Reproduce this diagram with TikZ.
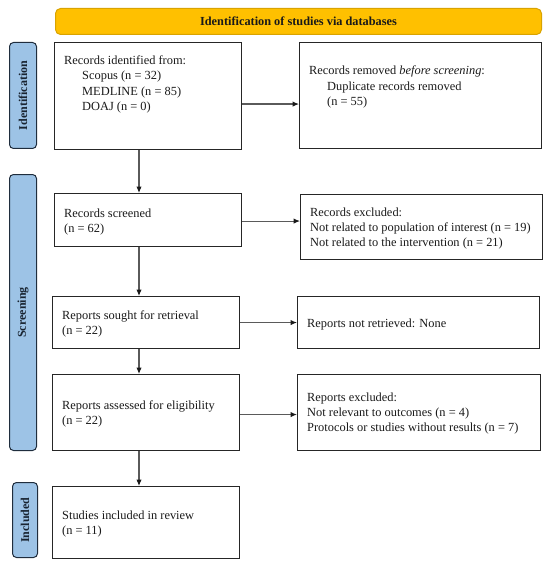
\documentclass[tikz,border=0pt]{standalone}
\usepackage{fontspec}
\setmainfont{Liberation Serif}
\usetikzlibrary{arrows.meta}
\definecolor{bannerfill}{HTML}{FFC000}
\definecolor{bannerdraw}{HTML}{D9A300}
\definecolor{phasefill}{HTML}{9DC3E6}
\definecolor{phasedraw}{HTML}{1F2D3D}
\definecolor{arrowgray}{HTML}{5A5A5A}
\begin{document}
\begin{tikzpicture}[x=1pt,y=-1pt,
  box/.style={draw=black!85, line width=1.1pt, anchor=north west, inner sep=0pt},
  txt/.style={anchor=north west, align=left, inner sep=0pt, font=\fontsize{12.4}{15.3}\selectfont, text=black!90},
  phase/.style={draw=phasedraw, fill=phasefill, line width=1pt, rounded corners=4pt, anchor=north west, inner sep=0pt},
  phasetxt/.style={rotate=90, font=\fontsize{12}{12}\selectfont\bfseries, text=phasedraw!80!black},
  arr/.style={draw=arrowgray, line width=1.1pt, -{Latex[length=6.5pt,width=5.5pt,color=black!90]}, shorten >=0pt}
]
\useasboundingbox (0,0) rectangle (550,564);
% banner
\node[draw=bannerdraw, fill=bannerfill, line width=1pt, rounded corners=5pt, anchor=north west, minimum width=486pt, minimum height=26pt, inner sep=0pt] (banner) at (55,8) {};
\node[font=\fontsize{12.3}{12}\selectfont\bfseries, text=black!90] (bannertxt) at (banner.center) {Identification of studies via databases};
% phase labels
\node[phase, minimum width=27pt, minimum height=106pt] (pid) at (9,42) {};
\node[phasetxt] (pidt) at (pid.center) {Identification};
\node[phase, minimum width=27pt, minimum height=276pt] (psc) at (9,174) {};
\node[phasetxt] (psct) at (psc.center) {Screening};
\node[phase, minimum width=25pt, minimum height=75pt] (pin) at (12,482) {};
\node[phasetxt] (pint) at (pin.center) {Included};
% boxes
\node[box, minimum width=187pt, minimum height=107pt] (b1) at (54,42) {};
\node[txt] (t1) at (64,55.5) {Records identified from:\\\hspace{18pt}Scopus (n = 32)\\\hspace{18pt}MEDLINE (n = 85)\\\hspace{18pt}DOAJ (n = 0)};
\node[box, minimum width=242pt, minimum height=106pt] (b2) at (299,42) {};
\node[txt] (t2) at (309,66) {Records removed \textit{before screening}:\\\hspace{18pt}Duplicate records removed\\\hspace{18pt}(n = 55)};
\node[box, minimum width=187pt, minimum height=53pt] (b3) at (54,193) {};
\node[txt] (t3) at (64,208.5) {Records screened\\(n = 62)};
\node[box, minimum width=242pt, minimum height=65pt] (b4) at (300,194) {};
\node[txt] (t4) at (310,207.5) {Records excluded:\\Not related to population of interest (n = 19)\\Not related to the intervention (n = 21)};
\node[box, minimum width=187pt, minimum height=52pt] (b5) at (52,296) {};
\node[txt] (t5) at (62,310.5) {Reports sought for retrieval\\(n = 22)};
\node[box, minimum width=242pt, minimum height=52pt] (b6) at (297,296) {};
\node[txt] (t6) at (307,318.5) {Reports not retrieved: None};
\node[box, minimum width=187pt, minimum height=76pt] (b7) at (52,374) {};
\node[txt] (t7) at (62,400.5) {Reports assessed for eligibility\\(n = 22)};
\node[box, minimum width=243pt, minimum height=76pt] (b8) at (297,374) {};
\node[txt] (t8) at (307,392.5) {Reports excluded:\\Not relevant to outcomes (n = 4)\\Protocols or studies without results (n = 7)};
\node[box, minimum width=187pt, minimum height=72pt] (b9) at (52,486) {};
\node[txt] (t9) at (62,510.5) {Studies included in review\\(n = 11)};
% spine
\coordinate (spine) at (139,0);
% arrows
\draw[arr] ([yshift=-8pt]b1.east) -- ([yshift=-8pt]b1.east -| b2.west);
\draw[arr] (b1.south -| spine) -- (b3.north -| spine);
\draw[arr] ([yshift=-1pt]b3.east) -- ([yshift=-1pt]b3.east -| b4.west);
\draw[arr] (b3.south -| spine) -- (b5.north -| spine);
\draw[arr] (b5.east) -- (b5.east -| b6.west);
\draw[arr] (b5.south -| spine) -- (b7.north -| spine);
\draw[arr] ([yshift=-2pt]b7.east) -- ([yshift=-2pt]b7.east -| b8.west);
\draw[arr] (b7.south -| spine) -- (b9.north -| spine);
\end{tikzpicture}
\end{document}
